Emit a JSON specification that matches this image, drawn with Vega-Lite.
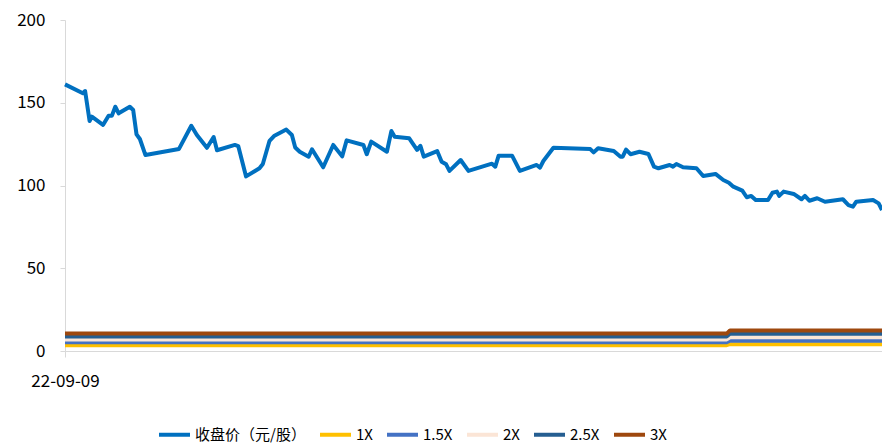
{
  "$schema": "https://vega.github.io/schema/vega-lite/v6.json",
  "autosize": {"type": "none"},
  "width": 817,
  "height": 331,
  "padding": {"left": 65, "top": 20, "right": 0, "bottom": 96},
  "background": "white",
  "config": {
    "font": "Noto Sans CJK SC",
    "view": {"stroke": null},
    "axis": {"grid": false, "domainColor": "#D9D9D9", "tickColor": "#D9D9D9", "labelColor": "#000000", "labelFont": "Noto Sans CJK SC", "labelFontSize": 17, "domainWidth": 1}
  },
  "data": {
    "values": [
      {"d": "2022/09/09", "s": "收盘价（元/股）", "v": 161.1},
      {"d": "2022/09/25", "s": "收盘价（元/股）", "v": 155.7},
      {"d": "2022/09/27", "s": "收盘价（元/股）", "v": 157.1},
      {"d": "2022/10/01", "s": "收盘价（元/股）", "v": 139.0},
      {"d": "2022/10/03", "s": "收盘价（元/股）", "v": 141.6},
      {"d": "2022/10/13", "s": "收盘价（元/股）", "v": 136.6},
      {"d": "2022/10/18", "s": "收盘价（元/股）", "v": 142.2},
      {"d": "2022/10/21", "s": "收盘价（元/股）", "v": 142.2},
      {"d": "2022/10/24", "s": "收盘价（元/股）", "v": 147.6},
      {"d": "2022/10/27", "s": "收盘价（元/股）", "v": 143.6},
      {"d": "2022/11/06", "s": "收盘价（元/股）", "v": 147.6},
      {"d": "2022/11/09", "s": "收盘价（元/股）", "v": 145.6},
      {"d": "2022/11/12", "s": "收盘价（元/股）", "v": 130.9},
      {"d": "2022/11/15", "s": "收盘价（元/股）", "v": 128.1},
      {"d": "2022/11/20", "s": "收盘价（元/股）", "v": 118.4},
      {"d": "2022/12/20", "s": "收盘价（元/股）", "v": 122.1},
      {"d": "2022/12/31", "s": "收盘价（元/股）", "v": 136.1},
      {"d": "2023/01/05", "s": "收盘价（元/股）", "v": 130.5},
      {"d": "2023/01/14", "s": "收盘价（元/股）", "v": 122.8},
      {"d": "2023/01/20", "s": "收盘价（元/股）", "v": 129.3},
      {"d": "2023/01/23", "s": "收盘价（元/股）", "v": 121.3},
      {"d": "2023/02/08", "s": "收盘价（元/股）", "v": 124.5},
      {"d": "2023/02/11", "s": "收盘价（元/股）", "v": 123.8},
      {"d": "2023/02/18", "s": "收盘价（元/股）", "v": 105.5},
      {"d": "2023/03/02", "s": "收盘价（元/股）", "v": 110.4},
      {"d": "2023/03/05", "s": "收盘价（元/股）", "v": 113.0},
      {"d": "2023/03/11", "s": "收盘价（元/股）", "v": 127.0},
      {"d": "2023/03/15", "s": "收盘价（元/股）", "v": 129.9},
      {"d": "2023/03/26", "s": "收盘价（元/股）", "v": 133.8},
      {"d": "2023/03/31", "s": "收盘价（元/股）", "v": 130.5},
      {"d": "2023/04/03", "s": "收盘价（元/股）", "v": 123.0},
      {"d": "2023/04/07", "s": "收盘价（元/股）", "v": 120.4},
      {"d": "2023/04/15", "s": "收盘价（元/股）", "v": 117.4},
      {"d": "2023/04/18", "s": "收盘价（元/股）", "v": 121.9},
      {"d": "2023/04/28", "s": "收盘价（元/股）", "v": 111.0},
      {"d": "2023/05/07", "s": "收盘价（元/股）", "v": 124.5},
      {"d": "2023/05/15", "s": "收盘价（元/股）", "v": 117.6},
      {"d": "2023/05/19", "s": "收盘价（元/股）", "v": 127.3},
      {"d": "2023/06/03", "s": "收盘价（元/股）", "v": 124.5},
      {"d": "2023/06/06", "s": "收盘价（元/股）", "v": 118.9},
      {"d": "2023/06/10", "s": "收盘价（元/股）", "v": 126.5},
      {"d": "2023/06/24", "s": "收盘价（元/股）", "v": 120.4},
      {"d": "2023/06/28", "s": "收盘价（元/股）", "v": 132.9},
      {"d": "2023/07/01", "s": "收盘价（元/股）", "v": 129.5},
      {"d": "2023/07/14", "s": "收盘价（元/股）", "v": 128.5},
      {"d": "2023/07/21", "s": "收盘价（元/股）", "v": 121.5},
      {"d": "2023/07/24", "s": "收盘价（元/股）", "v": 124.0},
      {"d": "2023/07/27", "s": "收盘价（元/股）", "v": 117.4},
      {"d": "2023/08/08", "s": "收盘价（元/股）", "v": 120.8},
      {"d": "2023/08/12", "s": "收盘价（元/股）", "v": 114.4},
      {"d": "2023/08/16", "s": "收盘价（元/股）", "v": 112.8},
      {"d": "2023/08/19", "s": "收盘价（元/股）", "v": 108.8},
      {"d": "2023/08/29", "s": "收盘价（元/股）", "v": 115.4},
      {"d": "2023/09/05", "s": "收盘价（元/股）", "v": 108.8},
      {"d": "2023/09/26", "s": "收盘价（元/股）", "v": 113.2},
      {"d": "2023/09/29", "s": "收盘价（元/股）", "v": 111.4},
      {"d": "2023/10/02", "s": "收盘价（元/股）", "v": 118.0},
      {"d": "2023/10/14", "s": "收盘价（元/股）", "v": 118.0},
      {"d": "2023/10/21", "s": "收盘价（元/股）", "v": 108.8},
      {"d": "2023/11/05", "s": "收盘价（元/股）", "v": 112.4},
      {"d": "2023/11/08", "s": "收盘价（元/股）", "v": 110.8},
      {"d": "2023/11/11", "s": "收盘价（元/股）", "v": 114.8},
      {"d": "2023/11/20", "s": "收盘价（元/股）", "v": 122.8},
      {"d": "2023/12/23", "s": "收盘价（元/股）", "v": 122.0},
      {"d": "2023/12/26", "s": "收盘价（元/股）", "v": 120.0},
      {"d": "2023/12/30", "s": "收盘价（元/股）", "v": 122.5},
      {"d": "2024/01/13", "s": "收盘价（元/股）", "v": 120.8},
      {"d": "2024/01/19", "s": "收盘价（元/股）", "v": 117.4},
      {"d": "2024/01/21", "s": "收盘价（元/股）", "v": 117.4},
      {"d": "2024/01/24", "s": "收盘价（元/股）", "v": 121.7},
      {"d": "2024/01/28", "s": "收盘价（元/股）", "v": 118.9},
      {"d": "2024/02/05", "s": "收盘价（元/股）", "v": 120.4},
      {"d": "2024/02/13", "s": "收盘价（元/股）", "v": 119.0},
      {"d": "2024/02/18", "s": "收盘价（元/股）", "v": 111.4},
      {"d": "2024/02/22", "s": "收盘价（元/股）", "v": 110.4},
      {"d": "2024/03/03", "s": "收盘价（元/股）", "v": 112.4},
      {"d": "2024/03/06", "s": "收盘价（元/股）", "v": 111.4},
      {"d": "2024/03/09", "s": "收盘价（元/股）", "v": 113.0},
      {"d": "2024/03/15", "s": "收盘价（元/股）", "v": 111.0},
      {"d": "2024/03/27", "s": "收盘价（元/股）", "v": 110.4},
      {"d": "2024/04/02", "s": "收盘价（元/股）", "v": 105.7},
      {"d": "2024/04/13", "s": "收盘价（元/股）", "v": 107.0},
      {"d": "2024/04/20", "s": "收盘价（元/股）", "v": 103.3},
      {"d": "2024/04/25", "s": "收盘价（元/股）", "v": 101.7},
      {"d": "2024/04/29", "s": "收盘价（元/股）", "v": 99.3},
      {"d": "2024/05/07", "s": "收盘价（元/股）", "v": 96.9},
      {"d": "2024/05/11", "s": "收盘价（元/股）", "v": 92.9},
      {"d": "2024/05/15", "s": "收盘价（元/股）", "v": 93.7},
      {"d": "2024/05/19", "s": "收盘价（元/股）", "v": 91.2},
      {"d": "2024/05/30", "s": "收盘价（元/股）", "v": 91.2},
      {"d": "2024/06/03", "s": "收盘价（元/股）", "v": 95.6},
      {"d": "2024/06/07", "s": "收盘价（元/股）", "v": 96.3},
      {"d": "2024/06/09", "s": "收盘价（元/股）", "v": 93.7},
      {"d": "2024/06/13", "s": "收盘价（元/股）", "v": 96.3},
      {"d": "2024/06/22", "s": "收盘价（元/股）", "v": 94.9},
      {"d": "2024/06/29", "s": "收盘价（元/股）", "v": 91.7},
      {"d": "2024/07/02", "s": "收盘价（元/股）", "v": 93.7},
      {"d": "2024/07/06", "s": "收盘价（元/股）", "v": 90.8},
      {"d": "2024/07/13", "s": "收盘价（元/股）", "v": 92.3},
      {"d": "2024/07/20", "s": "收盘价（元/股）", "v": 90.2},
      {"d": "2024/08/05", "s": "收盘价（元/股）", "v": 91.7},
      {"d": "2024/08/10", "s": "收盘价（元/股）", "v": 88.2},
      {"d": "2024/08/14", "s": "收盘价（元/股）", "v": 87.2},
      {"d": "2024/08/17", "s": "收盘价（元/股）", "v": 90.2},
      {"d": "2024/09/01", "s": "收盘价（元/股）", "v": 91.2},
      {"d": "2024/09/06", "s": "收盘价（元/股）", "v": 89.2},
      {"d": "2024/09/09", "s": "收盘价（元/股）", "v": 85.2},
      {"d": "2022/09/09", "s": "1X", "v": 3.5},
      {"d": "2024/04/23", "s": "1X", "v": 3.5},
      {"d": "2024/04/26", "s": "1X", "v": 4.15},
      {"d": "2024/09/09", "s": "1X", "v": 4.15},
      {"d": "2022/09/09", "s": "1.5X", "v": 5.25},
      {"d": "2024/04/23", "s": "1.5X", "v": 5.25},
      {"d": "2024/04/26", "s": "1.5X", "v": 6.2},
      {"d": "2024/09/09", "s": "1.5X", "v": 6.2},
      {"d": "2022/09/09", "s": "2X", "v": 7.0},
      {"d": "2024/04/23", "s": "2X", "v": 7.0},
      {"d": "2024/04/26", "s": "2X", "v": 8.3},
      {"d": "2024/09/09", "s": "2X", "v": 8.3},
      {"d": "2022/09/09", "s": "2.5X", "v": 8.75},
      {"d": "2024/04/23", "s": "2.5X", "v": 8.75},
      {"d": "2024/04/26", "s": "2.5X", "v": 10.4},
      {"d": "2024/09/09", "s": "2.5X", "v": 10.4},
      {"d": "2022/09/09", "s": "3X", "v": 10.5},
      {"d": "2024/04/23", "s": "3X", "v": 10.5},
      {"d": "2024/04/26", "s": "3X", "v": 12.45},
      {"d": "2024/09/09", "s": "3X", "v": 12.45}
    ]
  },
  "mark": {"type": "line", "strokeWidth": 4, "strokeJoin": "round"},
  "encoding": {
    "x": {
      "field": "d",
      "type": "temporal",
      "scale": {"domain": [{"year": 2022, "month": 9, "date": 9}, {"year": 2024, "month": 9, "date": 9}]},
      "axis": {
        "title": null,
        "values": [{"year": 2022, "month": 9, "date": 9}],
        "format": "%y-%m-%d",
        "tickSize": 6,
        "labelPadding": 16,
        "labelAlign": "center",
        "labelFlush": false
      }
    },
    "y": {
      "field": "v",
      "type": "quantitative",
      "scale": {"domain": [0, 200], "nice": false},
      "axis": {"title": null, "values": [0, 50, 100, 150, 200], "tickSize": 5, "labelPadding": 15}
    },
    "color": {
      "field": "s",
      "type": "nominal",
      "scale": {
        "domain": ["收盘价（元/股）", "1X", "1.5X", "2X", "2.5X", "3X"],
        "range": ["#0070C0", "#FFC000", "#4472C4", "#FBE5D6", "#255E91", "#9E480E"]
      },
      "legend": {
        "title": null,
        "orient": "none",
        "direction": "horizontal",
        "legendX": 92,
        "legendY": 397,
        "symbolType": "stroke",
        "symbolSize": 961,
        "symbolStrokeWidth": 4,
        "labelFont": "Noto Sans CJK SC",
        "labelFontSize": 15,
        "labelColor": "#000000",
        "labelOffset": 3,
        "columnPadding": 6,
        "labelLimit": 300
      }
    }
  }
}
